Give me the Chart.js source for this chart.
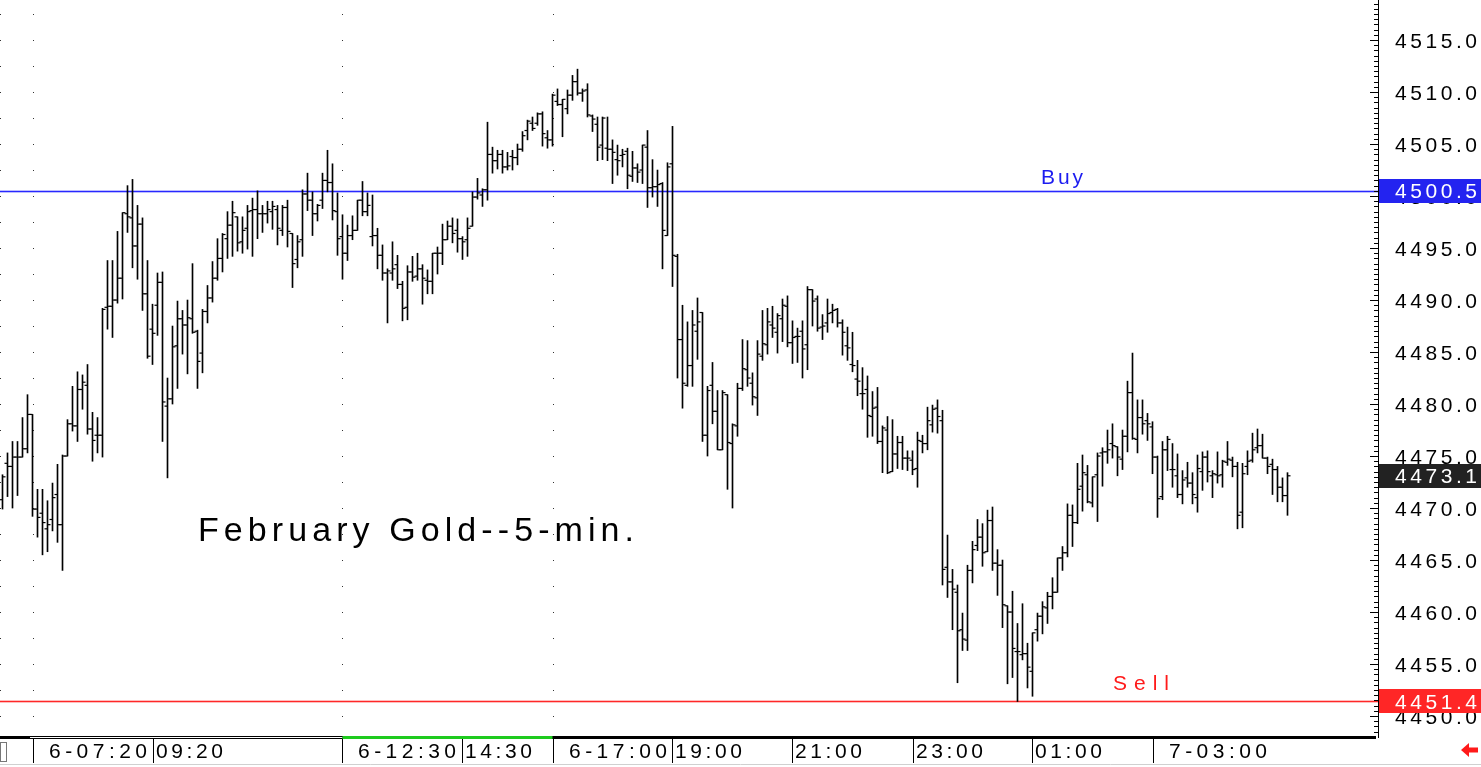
<!DOCTYPE html>
<html>
<head>
<meta charset="utf-8">
<title>February Gold 5-min</title>
<script src="https://cdn.jsdelivr.net/npm/chart.js@4.4.1/dist/chart.umd.min.js"></script>
<style>
    html, body { margin: 0; padding: 0; background: #fff; overflow: hidden; }
    #wrap { position: relative; width: 1481px; height: 767px; }
</style>
</head>
<body>
<div id="wrap"><canvas id="chart" width="1481" height="767"></canvas></div>
<script>
// OHLC values, one entry per 5-min bar
const opens = [
    4470.8, 4474.3, 4474.0, 4474.9, 4474.9, 4475.7, 4479.0, 4469.9, 4469.5, 4468.0,
    4468.9, 4471.3, 4468.4, 4475.0, 4478.1, 4477.9, 4481.4, 4481.8, 4477.6, 4477.0,
    4477.0, 4489.3, 4489.4, 4490.0, 4492.1, 4498.3, 4497.9, 4495.2, 4497.3, 4490.6,
    4487.2, 4489.5, 4491.7, 4479.8, 4480.5, 4485.6, 4488.2, 4487.6, 4488.2, 4487.0,
    4484.9, 4488.9, 4490.2, 4492.1, 4494.0, 4495.9, 4497.2, 4498.0, 4495.6, 4496.9,
    4498.6, 4498.7, 4498.3, 4498.3, 4498.5, 4498.7, 4496.7, 4498.9, 4496.4, 4493.9,
    4495.8, 4500.2, 4499.6, 4498.3, 4499.6, 4501.5, 4501.3, 4498.5, 4496.1, 4494.5,
    4496.2, 4496.7, 4499.6, 4498.5, 4496.1, 4496.2, 4494.3, 4492.6, 4492.6, 4493.4,
    4491.5, 4489.3, 4492.7, 4492.3, 4493.0, 4491.9, 4491.8, 4494.5, 4494.5, 4495.8,
    4497.1, 4496.7, 4495.9, 4495.8, 4497.1, 4499.9, 4500.1, 4500.6, 4504.0, 4503.4,
    4504.0, 4502.8, 4503.8, 4503.7, 4504.5, 4506.3, 4507.0, 4507.0, 4507.9, 4505.6,
    4505.4, 4509.1, 4508.8, 4508.4, 4509.7, 4511.0, 4509.9, 4510.2, 4507.7, 4506.9,
    4504.9, 4504.6, 4504.5, 4503.5, 4503.9, 4504.3, 4501.9, 4502.7, 4502.5, 4504.7,
    4500.8, 4500.9, 4501.2, 4496.2, 4503.1, 4494.2, 4486.2, 4481.8, 4483.7, 4487.0,
    4488.8, 4477.0, 4481.8, 4479.3, 4475.6, 4480.9, 4476.2, 4477.9, 4481.5, 4483.3,
    4482.0, 4480.6, 4484.6, 4485.7, 4487.6, 4486.9, 4488.2, 4489.4, 4485.9, 4486.5,
    4487.0, 4485.7, 4491.0, 4490.1, 4487.4, 4487.8, 4488.8, 4489.1, 4487.8, 4485.6,
    4483.8, 4482.4, 4481.0, 4481.4, 4478.8, 4479.7, 4476.4, 4477.5, 4473.5, 4475.2,
    4476.3, 4474.8, 4474.6, 4473.8, 4476.4, 4476.2, 4478.0, 4479.6, 4478.4, 4464.3,
    4462.9, 4461.9, 4458.3, 4457.3, 4464.0, 4466.4, 4467.2, 4465.8, 4468.8, 4464.7,
    4464.5, 4460.6, 4460.0, 4456.2, 4455.9, 4456.0, 4454.3, 4458.3, 4459.6, 4460.4,
    4461.5, 4461.9, 4465.2, 4465.7, 4469.3, 4468.6, 4472.1, 4473.2, 4470.5, 4473.2,
    4475.3, 4475.4, 4476.2, 4475.9, 4474.7, 4476.9, 4481.1, 4476.6, 4478.7, 4478.4,
    4477.8, 4474.9, 4471.1, 4475.6, 4473.7, 4473.1, 4471.3, 4472.9, 4472.4, 4471.0,
    4473.5, 4474.9, 4473.1, 4473.2, 4473.2, 4474.4, 4474.6, 4474.0, 4469.6, 4474.0,
    4474.6, 4475.8, 4476.0, 4474.8, 4474.2, 4473.7, 4472.0, 4471.2
];
const highs = [
    4473.2, 4475.3, 4476.4, 4476.4, 4478.7, 4480.9, 4479.0, 4471.8, 4471.8, 4470.7,
    4472.4, 4474.2, 4475.1, 4478.5, 4481.7, 4483.1, 4482.8, 4483.8, 4479.2, 4478.7,
    4489.2, 4493.8, 4493.8, 4496.6, 4498.4, 4501.0, 4501.6, 4499.1, 4497.9, 4493.8,
    4489.6, 4492.6, 4492.7, 4482.5, 4487.5, 4489.9, 4489.0, 4490.0, 4493.5, 4487.1,
    4489.1, 4491.4, 4493.7, 4495.9, 4496.4, 4498.5, 4499.5, 4498.0, 4498.0, 4499.1,
    4499.8, 4500.5, 4499.1, 4499.5, 4499.5, 4499.1, 4499.1, 4499.6, 4496.4, 4496.2,
    4500.6, 4502.2, 4500.4, 4499.2, 4502.2, 4504.4, 4503.1, 4500.3, 4498.2, 4497.2,
    4498.1, 4499.6, 4501.4, 4500.3, 4500.1, 4496.9, 4495.3, 4493.0, 4495.6, 4494.3,
    4491.8, 4493.3, 4494.2, 4494.5, 4493.4, 4492.9, 4494.5, 4495.1, 4497.3, 4497.6,
    4497.9, 4497.8, 4496.1, 4497.9, 4500.4, 4501.7, 4500.7, 4507.1, 4504.7, 4504.4,
    4504.4, 4504.2, 4504.4, 4505.0, 4506.2, 4507.3, 4507.6, 4508.0, 4508.1, 4506.3,
    4509.8, 4510.3, 4509.3, 4510.2, 4511.6, 4512.2, 4510.3, 4510.8, 4507.8, 4507.6,
    4507.6, 4507.6, 4505.4, 4504.9, 4504.5, 4504.6, 4504.3, 4503.1, 4504.9, 4506.3,
    4503.5, 4502.5, 4501.3, 4503.2, 4506.7, 4494.4, 4489.5, 4487.9, 4489.0, 4490.2,
    4488.8, 4481.7, 4484.0, 4481.3, 4481.3, 4480.9, 4478.1, 4482.0, 4486.2, 4486.1,
    4483.0, 4486.1, 4489.0, 4489.2, 4489.4, 4488.7, 4490.1, 4490.4, 4488.0, 4487.3,
    4488.0, 4491.3, 4491.0, 4490.4, 4488.6, 4490.1, 4489.6, 4489.2, 4488.1, 4487.4,
    4486.9, 4484.2, 4483.5, 4482.7, 4481.2, 4481.6, 4477.9, 4478.8, 4478.5, 4476.9,
    4476.9, 4475.5, 4475.5, 4477.3, 4477.0, 4479.7, 4479.9, 4480.4, 4479.4, 4467.4,
    4464.1, 4462.6, 4459.9, 4464.5, 4466.8, 4468.9, 4468.5, 4469.8, 4470.1, 4466.0,
    4465.0, 4460.6, 4462.0, 4458.9, 4460.8, 4457.0, 4458.0, 4459.9, 4461.0, 4461.9,
    4463.3, 4465.2, 4466.3, 4470.4, 4470.3, 4474.3, 4475.1, 4474.1, 4473.0, 4475.3,
    4475.8, 4477.5, 4478.1, 4475.9, 4477.5, 4482.2, 4484.9, 4480.4, 4480.4, 4479.1,
    4478.3, 4475.0, 4476.4, 4476.9, 4476.2, 4475.2, 4473.6, 4474.4, 4473.4, 4475.1,
    4475.4, 4475.5, 4473.6, 4475.4, 4474.6, 4476.4, 4474.9, 4474.4, 4474.3, 4475.5,
    4477.2, 4477.6, 4477.1, 4474.9, 4474.7, 4474.0, 4472.9, 4473.4
];
const lows = [
    4469.9, 4471.1, 4470.0, 4471.2, 4474.9, 4475.3, 4469.2, 4467.2, 4465.5, 4465.8,
    4467.8, 4466.7, 4464.0, 4475.0, 4477.4, 4476.4, 4479.5, 4477.1, 4474.5, 4475.3,
    4474.9, 4487.2, 4486.4, 4489.7, 4490.1, 4496.5, 4493.1, 4492.0, 4489.0, 4484.4,
    4483.8, 4486.6, 4476.4, 4472.9, 4480.0, 4481.5, 4484.8, 4482.9, 4486.8, 4481.5,
    4483.0, 4487.8, 4489.8, 4491.9, 4492.7, 4494.0, 4494.2, 4494.7, 4494.5, 4494.9,
    4494.2, 4495.9, 4496.5, 4497.4, 4496.8, 4495.3, 4496.2, 4495.1, 4491.2, 4493.1,
    4494.2, 4498.6, 4496.2, 4497.6, 4498.8, 4500.4, 4497.7, 4494.3, 4492.0, 4493.8,
    4495.8, 4496.7, 4498.1, 4498.1, 4495.2, 4493.0, 4491.9, 4487.8, 4491.9, 4491.1,
    4488.0, 4488.1, 4491.8, 4491.9, 4489.6, 4490.6, 4490.6, 4492.5, 4493.4, 4495.8,
    4495.5, 4494.6, 4493.9, 4494.2, 4497.1, 4499.7, 4499.0, 4499.6, 4502.2, 4502.6,
    4502.2, 4502.5, 4502.5, 4503.0, 4504.3, 4505.4, 4506.3, 4506.8, 4504.8, 4504.6,
    4504.8, 4508.7, 4505.7, 4507.9, 4509.2, 4509.7, 4509.1, 4507.6, 4506.2, 4503.4,
    4503.5, 4503.4, 4501.2, 4502.0, 4502.8, 4500.7, 4501.4, 4501.3, 4501.2, 4498.9,
    4499.9, 4499.0, 4493.0, 4496.2, 4491.3, 4482.5, 4479.6, 4481.7, 4481.7, 4484.3,
    4476.4, 4475.0, 4478.1, 4475.6, 4475.6, 4471.8, 4470.0, 4476.9, 4481.3, 4481.7,
    4479.9, 4478.9, 4484.2, 4484.8, 4486.4, 4484.9, 4486.0, 4485.5, 4483.9, 4484.0,
    4482.5, 4483.3, 4487.5, 4487.0, 4486.2, 4486.9, 4487.8, 4487.4, 4484.7, 4484.2,
    4483.1, 4480.8, 4479.5, 4476.8, 4476.9, 4476.2, 4473.4, 4473.3, 4473.5, 4473.8,
    4473.7, 4473.6, 4473.2, 4472.0, 4475.3, 4475.6, 4477.3, 4477.2, 4462.6, 4461.4,
    4458.3, 4453.2, 4456.3, 4456.3, 4462.8, 4465.9, 4464.4, 4465.8, 4464.0, 4461.6,
    4458.5, 4453.1, 4453.7, 4451.4, 4455.4, 4452.7, 4451.9, 4457.2, 4457.9, 4458.9,
    4460.3, 4461.9, 4464.0, 4465.3, 4466.3, 4468.5, 4469.7, 4470.5, 4470.1, 4468.7,
    4472.1, 4474.3, 4474.8, 4473.1, 4473.7, 4475.4, 4476.6, 4475.3, 4477.1, 4476.5,
    4473.3, 4469.1, 4470.8, 4473.6, 4472.0, 4471.0, 4470.4, 4472.0, 4470.4, 4469.6,
    4471.7, 4472.5, 4471.0, 4472.4, 4472.0, 4474.1, 4473.0, 4468.0, 4468.1, 4473.2,
    4474.4, 4475.3, 4474.8, 4473.3, 4471.3, 4470.6, 4470.6, 4469.3
];
const closes = [
    4473.0, 4474.0, 4474.9, 4474.9, 4475.7, 4479.0, 4469.9, 4469.1, 4468.6, 4468.4,
    4471.0, 4468.4, 4475.0, 4478.1, 4477.9, 4481.4, 4482.1, 4477.6, 4476.5, 4477.0,
    4489.1, 4489.4, 4490.0, 4492.1, 4498.4, 4498.0, 4495.2, 4497.3, 4490.6, 4484.6,
    4486.8, 4491.7, 4480.2, 4480.5, 4485.5, 4488.2, 4487.6, 4488.3, 4486.9, 4484.1,
    4488.9, 4490.2, 4492.1, 4494.0, 4496.3, 4497.2, 4498.4, 4495.5, 4496.7, 4498.5,
    4498.7, 4498.3, 4498.3, 4498.7, 4499.0, 4496.9, 4498.9, 4496.6, 4493.5, 4495.6,
    4500.2, 4499.6, 4498.3, 4499.1, 4501.5, 4501.3, 4498.6, 4495.9, 4494.5, 4496.2,
    4496.7, 4499.6, 4498.5, 4499.1, 4496.2, 4494.3, 4492.6, 4492.8, 4493.0, 4491.5,
    4489.2, 4492.7, 4492.2, 4493.0, 4492.1, 4491.8, 4494.5, 4494.5, 4495.8, 4497.1,
    4496.4, 4495.9, 4495.6, 4496.9, 4499.9, 4500.3, 4500.6, 4504.0, 4503.4, 4504.0,
    4502.8, 4502.9, 4503.7, 4504.5, 4505.8, 4507.2, 4506.5, 4507.9, 4506.0, 4505.4,
    4509.7, 4508.8, 4509.3, 4509.7, 4511.0, 4509.9, 4510.1, 4507.8, 4507.4, 4504.7,
    4507.5, 4504.5, 4504.2, 4503.4, 4504.0, 4502.0, 4502.7, 4502.3, 4504.9, 4500.8,
    4500.9, 4501.1, 4496.7, 4502.8, 4494.3, 4486.2, 4482.0, 4483.7, 4487.6, 4487.9,
    4477.0, 4481.3, 4479.3, 4475.6, 4481.1, 4476.3, 4478.0, 4481.5, 4483.4, 4482.5,
    4480.7, 4484.8, 4485.8, 4487.9, 4487.3, 4488.5, 4489.5, 4485.9, 4486.4, 4486.5,
    4485.3, 4491.0, 4489.9, 4487.3, 4487.5, 4488.7, 4489.0, 4487.8, 4486.9, 4485.4,
    4483.7, 4482.2, 4481.0, 4478.9, 4479.6, 4476.4, 4477.7, 4473.4, 4475.2, 4476.3,
    4474.8, 4474.8, 4473.7, 4476.5, 4476.2, 4478.4, 4479.5, 4478.8, 4464.1, 4462.9,
    4462.2, 4458.2, 4457.4, 4464.0, 4466.0, 4467.2, 4465.7, 4468.8, 4464.7, 4464.5,
    4460.7, 4460.0, 4456.5, 4456.2, 4456.0, 4454.7, 4458.0, 4459.6, 4460.5, 4461.5,
    4461.9, 4465.2, 4465.7, 4469.3, 4468.6, 4471.8, 4473.4, 4470.6, 4473.0, 4475.0,
    4475.4, 4475.6, 4476.0, 4474.9, 4476.9, 4481.1, 4476.7, 4478.7, 4478.1, 4478.1,
    4474.9, 4470.9, 4475.6, 4476.6, 4473.7, 4471.3, 4472.7, 4472.4, 4471.3, 4473.8,
    4474.9, 4473.5, 4473.3, 4473.1, 4474.5, 4474.7, 4474.0, 4469.3, 4473.3, 4474.5,
    4475.6, 4476.0, 4474.8, 4474.0, 4473.7, 4472.0, 4471.2, 4473.1
];

// price axis ticks and marked levels
const yTicks = [4515, 4510, 4505, 4500, 4495, 4490, 4485, 4480, 4475, 4470, 4465, 4460, 4455, 4450];
const buyLevel = 4500.5;
const sellLevel = 4451.4;
const lastPrice = 4473.1;

// time axis labels (bar index where each label sits)
const xTickBars = [6, 30, 68, 92, 110, 134, 158, 182, 206, 230];
const xTickLabels = ['6-07:20', '09:20', '6-12:30', '14:30', '6-17:00', '19:00', '21:00', '23:00', '01:00', '7-03:00'];
// bars that carry a column of grid dots
const dotBars = [-0.5, 6, 68, 110];

const FONT = '"Liberation Sans", Arial, sans-serif';

// draws text char by char, spread so it fills left..right
function fitText(ctx, text, left, right, baseline) {
    const chars = [...text];
    const widths = chars.map(c => ctx.measureText(c).width);
    const total = widths.reduce((s, w) => s + w, 0);
    const gap = chars.length > 1 ? (right - left - total) / (chars.length - 1) : 0;
    ctx.textAlign = 'left';
    ctx.textBaseline = 'alphabetic';
    let x = left;
    chars.forEach((c, k) => {
        ctx.fillText(c, x, baseline);
        x += widths[k] + gap;
    });
}

function levelLine(chart, value, color) {
    const { ctx, chartArea: a, scales: { y } } = chart;
    const ly = Math.round(y.getPixelForValue(value));
    ctx.save();
    ctx.fillStyle = color;
    ctx.fillRect(a.left, ly - 0.3, a.right - a.left, 1.6);
    ctx.restore();
}

const decor = {
    id: 'decor',
    beforeDatasetsDraw(chart) {
        const { ctx, scales: { x, y } } = chart;
        ctx.save();
        // dotted grid
        ctx.fillStyle = '#333';
        dotBars.forEach(b => {
            const px = Math.max(0, Math.round(x.getPixelForValue(b)));
            for (let v = 4450; v <= 4518; v += 2.5) {
                ctx.fillRect(px, Math.round(y.getPixelForValue(v)), 1, 1);
            }
        });
        ctx.restore();

        levelLine(chart, buyLevel, 'rgb(40,40,255)');
        levelLine(chart, sellLevel, 'rgb(255,40,40)');
    },
    afterDraw(chart) {
        const { ctx, chartArea: a, scales: { x, y } } = chart;
        ctx.save();

        // right axis line + ticks
        ctx.strokeStyle = '#000';
        ctx.lineWidth = 1;
        ctx.beginPath();
        ctx.moveTo(a.right + 0.5, 0);
        ctx.lineTo(a.right + 0.5, a.bottom + 2);
        ctx.stroke();
        for (let v = 4448.5; v <= 4518.5; v += 0.5) {
            const ty = Math.round(y.getPixelForValue(v)) + 0.5;
            const len = (v % 5 === 0) ? 8 : 4;
            ctx.beginPath();
            ctx.moveTo(a.right - len, ty);
            ctx.lineTo(a.right, ty);
            ctx.stroke();
        }

        // price labels
        ctx.font = '21px ' + FONT;
        ctx.fillStyle = '#000';
        yTicks.forEach(v => {
            const ty = y.getPixelForValue(v);
            fitText(ctx, v.toFixed(1), 1395, 1477, ty + 7.5);
        });

        // boxed levels on the price axis
        const boxes = [
            { v: buyLevel, bg: '#2323f0' },
            { v: lastPrice, bg: '#222222' },
            { v: sellLevel, bg: '#ff2626' }
        ];
        boxes.forEach(b => {
            const ty = y.getPixelForValue(b.v);
            ctx.fillStyle = b.bg;
            ctx.fillRect(a.right + 1, Math.round(ty) - 12, 1481 - a.right, 24);
            ctx.fillStyle = '#fff';
            fitText(ctx, b.v.toFixed(1), 1395, 1477, ty + 7.5);
        });

        // Buy / Sell labels
        ctx.font = '21px ' + FONT;
        ctx.fillStyle = '#1c1cf0';
        fitText(ctx, 'Buy', 1041, 1083, y.getPixelForValue(buyLevel) - 7);
        ctx.fillStyle = '#ff1a1a';
        fitText(ctx, 'Sell', 1113, 1169, y.getPixelForValue(sellLevel) - 11);

        // title
        ctx.font = '34px ' + FONT;
        ctx.fillStyle = '#000';
        fitText(ctx, 'February Gold--5-min.', 198, 634, 541);

        // time axis bar
        ctx.fillStyle = '#000';
        ctx.fillRect(0, a.bottom, a.right - 2, 3);
        ctx.fillStyle = '#fff';
        ctx.fillRect(30, a.bottom + 1, x.getPixelForValue(68) - 30, 1);
        ctx.fillStyle = '#1ecb1e';
        const g0 = x.getPixelForValue(68), g1 = x.getPixelForValue(110);
        ctx.fillRect(g0, a.bottom, g1 - g0, 3);

        // separators + time labels
        ctx.strokeStyle = '#000';
        ctx.font = '21px ' + FONT;
        ctx.fillStyle = '#000';
        xTickBars.forEach((b, k) => {
            const sx = Math.round(x.getPixelForValue(b)) + 0.5;
            ctx.beginPath();
            ctx.moveTo(sx, a.bottom + 3);
            ctx.lineTo(sx, 763);
            ctx.stroke();
            const lab = xTickLabels[k];
            const dated = lab.includes('-');
            const left = sx + (dated ? 15.5 : 2.5);
            fitText(ctx, lab, left, left + (dated ? 98 : 67), 758);
        });

        // small box bottom-left
        ctx.strokeStyle = '#777';
        ctx.strokeRect(0.5, 742.5, 6, 19);

        // bottom gray line
        ctx.strokeStyle = '#d0d0d0';
        ctx.beginPath();
        ctx.moveTo(0, 764.5);
        ctx.lineTo(1481, 764.5);
        ctx.stroke();

        // red arrow bottom-right
        ctx.fillStyle = '#ff1a1a';
        ctx.beginPath();
        ctx.moveTo(1461, 750);
        ctx.lineTo(1469, 743);
        ctx.lineTo(1469, 747.5);
        ctx.lineTo(1478, 747.5);
        ctx.lineTo(1478, 752.5);
        ctx.lineTo(1469, 752.5);
        ctx.lineTo(1469, 757);
        ctx.closePath();
        ctx.fill();

        ctx.restore();
    }
};

const rangeData = highs.map((h, i) => ({ x: i, y: [lows[i], h] }));
const openData = opens.map((o, i) => ({ x: i - 0.3, y: o }));
const closeData = closes.map((c, i) => ({ x: i + 0.3, y: c }));

new Chart(document.getElementById('chart').getContext('2d'), {
    data: {
        datasets: [
            {
                type: 'bar',
                data: rangeData,
                backgroundColor: '#000',
                borderWidth: 0,
                barThickness: 1,
                grouped: false
            },
            {
                type: 'scatter',
                data: openData,
                pointStyle: 'line',
                radius: 1.5,
                borderColor: '#000',
                borderWidth: 1.2
            },
            {
                type: 'scatter',
                data: closeData,
                pointStyle: 'line',
                radius: 1.5,
                borderColor: '#000',
                borderWidth: 1.2
            }
        ]
    },
    options: {
        responsive: false,
        animation: false,
        events: [],
        layout: { autoPadding: false, padding: { left: 0, top: 0, right: 103, bottom: 31 } },
        scales: {
            x: { type: 'linear', min: -0.5, max: 275.1, offset: false, display: false },
            y: { type: 'linear', min: 4448.08, max: 4518.85, display: false }
        },
        plugins: {
            legend: { display: false },
            tooltip: { enabled: false }
        }
    },
    plugins: [decor]
});
</script>
</body>
</html>
